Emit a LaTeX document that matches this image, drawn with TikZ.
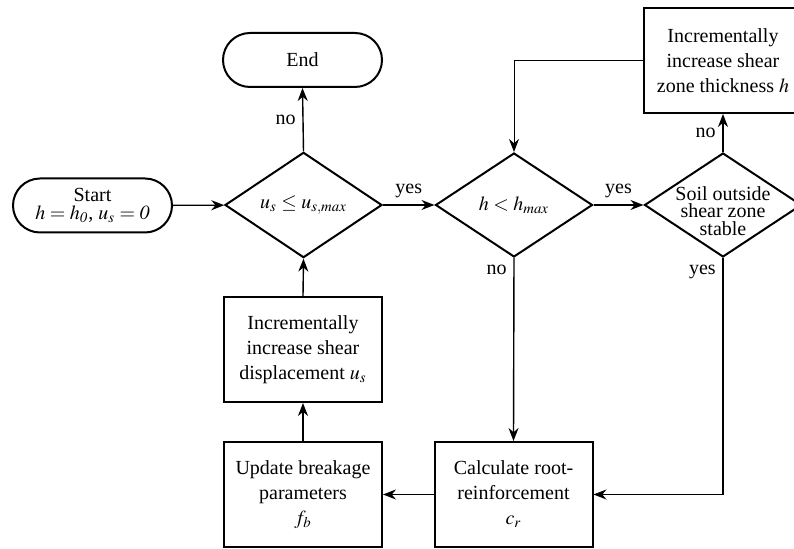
\documentclass[tikz,border=0pt]{standalone}
\usepackage{mathptmx}
\usepackage{fontspec}
\setmainfont{Liberation Serif}
\usetikzlibrary{shapes.geometric,arrows.meta}

\tikzset{
  proc/.style={draw, line width=1pt, rectangle, minimum width=79pt,
    minimum height=52.5pt, align=center, inner sep=2pt},
  term/.style={draw, line width=1pt, rectangle, rounded corners=13.5pt,
    minimum width=79.5pt, minimum height=27pt, align=center, inner sep=1pt,
    font=\fontsize{10}{9}\selectfont},
  decision/.style={draw, line width=1pt, diamond, minimum width=78.5pt,
    minimum height=52pt, inner sep=0pt},
  flow/.style={line width=0.7pt, -{Stealth[length=6.5pt,width=5pt]}},
  tag/.style={inner sep=3.3pt},
}

\begin{document}
\begin{tikzpicture}[x=0.5pt, y=-0.5pt, font=\fontsize{10}{12.5}\selectfont]
  \useasboundingbox (0,0) rectangle (794,549);
  \clip (0,0) rectangle (794,549);
  % terminals
  \node[term] (start) at (92.5,205.5) {Start\\$h = h_{\mathit{0}}$, $u_s = \mathit{0}$};
  \node[term] (end) at (302.5,60) {End};
  % decisions
  \node[decision] (d1) at (303.5,205) {$u_s \le u_{s,max}$};
  \node[decision] (d2) at (514,205) {$h < h_{max}$};
  \node[decision, label={[align=center, yshift=-3pt, font=\fontsize{10}{8.75}\selectfont]center:Soil outside\\shear zone\\stable}] (d3) at (723,205) {};
  % process boxes
  \node[proc] (thick) at (723,60.5) {Incrementally\\increase shear\\zone thickness $h$};
  \node[proc] (disp) at (303,349.5) {Incrementally\\increase shear\\displacement $u_s$};
  \node[proc] (brk) at (303,494.5) {Update breakage\\parameters\\$f_b$};
  \node[proc] (root) at (513.5,494.5) {Calculate root-\\reinforcement\\$c_r$};
  % connectors
  \draw[flow] (start) -- (d1);
  \draw[flow] (d1.north) -- node[tag, left] {no} (end.south);
  \draw[flow] (d1.east) -- node[tag, above] {yes} (d2.west);
  \draw[flow] (d2.east) -- node[tag, above] {yes} (d3.west);
  \draw[flow] (d3.north) -- node[tag, left] {no} (thick.south);
  \draw[flow, line width=0.5pt] (thick.west) -| (d2.north);
  \draw[flow] (d2.south) node[tag, below left] {no} -- (root.north);
  \draw[flow] (d3.south) node[tag, below left] {yes} |- (root.east);
  \draw[flow] (root.west) -- (brk.east);
  \draw[flow] (brk.north) -- (disp.south);
  \draw[flow] (disp.north) -- (d1.south);
\end{tikzpicture}
\end{document}
